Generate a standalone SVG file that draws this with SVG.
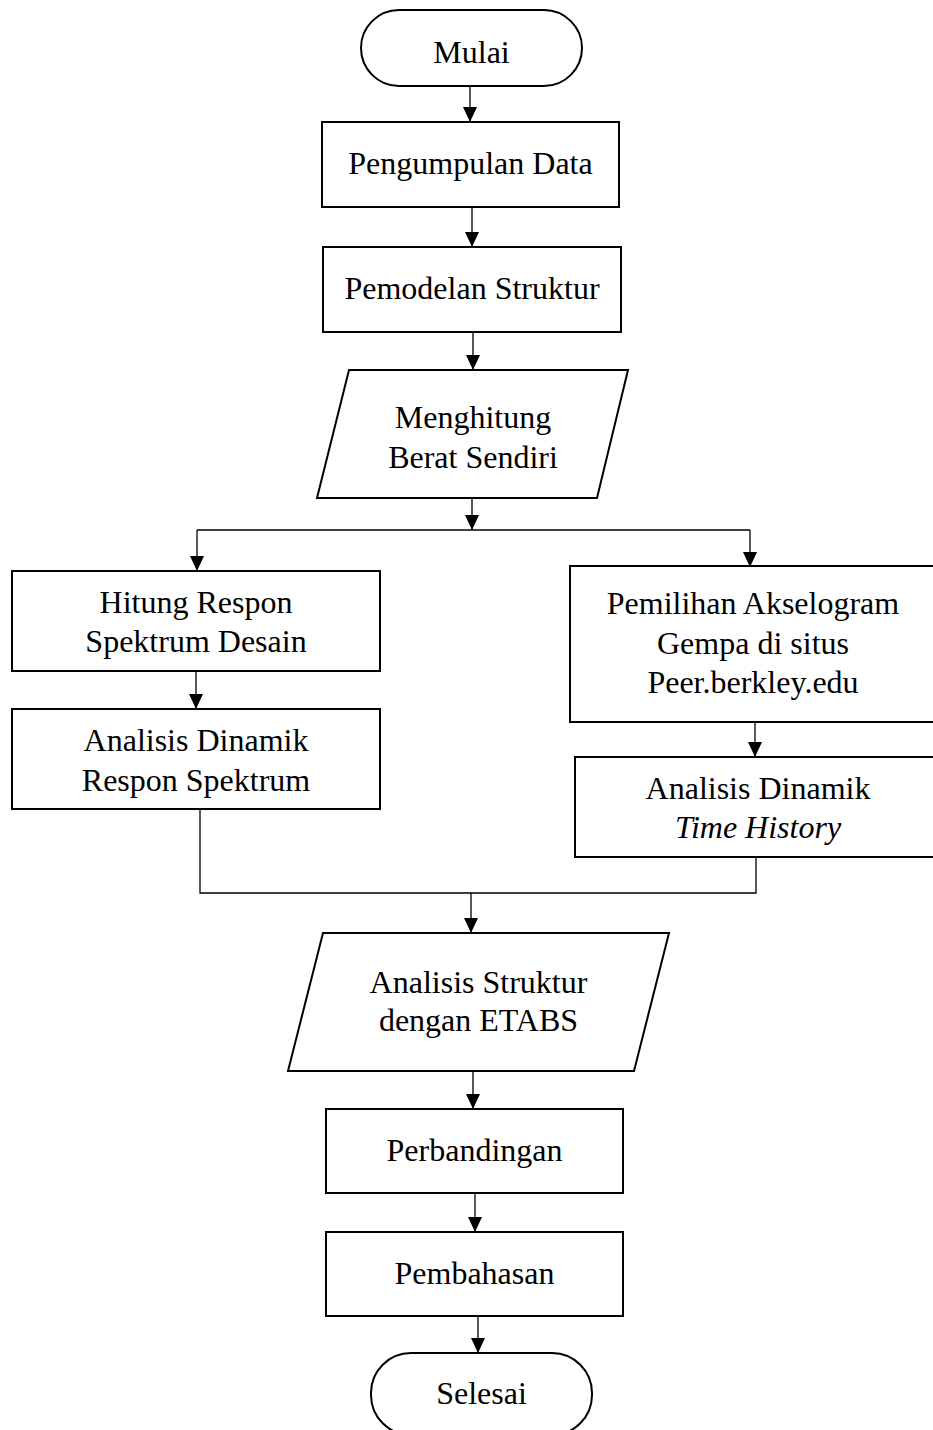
<svg xmlns="http://www.w3.org/2000/svg" width="933" height="1430" viewBox="0 0 933 1430">
<style>
.n{fill:#fff;stroke:#000;stroke-width:2}
.t{font-family:"Liberation Serif","Times New Roman",serif;font-size:32px;text-anchor:middle;fill:#000}
.c{fill:none;stroke:#000;stroke-width:1.3}
.a{marker-end:url(#ah)}
</style>
<defs>
<marker id="ah" markerUnits="userSpaceOnUse" markerWidth="15" markerHeight="15" refX="15" refY="7" orient="auto">
<path d="M0,0 L15,7 L0,14 z" fill="#000"/>
</marker>
</defs>
<rect width="933" height="1430" fill="#fff"/>
<g id="connectors">
<line class="c a" x1="470" y1="86" x2="470" y2="122"/>
<line class="c a" x1="472" y1="207" x2="472" y2="247"/>
<line class="c a" x1="473" y1="332" x2="473" y2="370"/>
<line class="c a" x1="472" y1="498" x2="472" y2="530"/>
<line class="c" x1="197" y1="530" x2="750" y2="530"/>
<line class="c a" x1="197" y1="530" x2="197" y2="571"/>
<line class="c a" x1="750" y1="530" x2="750" y2="567"/>
<line class="c a" x1="196" y1="671" x2="196" y2="709"/>
<line class="c a" x1="755" y1="722" x2="755" y2="757"/>
<polyline class="c" points="200,809 200,893 756,893 756,857"/>
<line class="c a" x1="471" y1="893" x2="471" y2="933"/>
<line class="c a" x1="473" y1="1072" x2="473" y2="1109"/>
<line class="c a" x1="475" y1="1193" x2="475" y2="1232"/>
<line class="c a" x1="478" y1="1316" x2="478" y2="1353"/>
</g>
<g id="mulai">
<rect class="n" x="361" y="10" width="221" height="76" rx="38"/>
<text class="t" x="471.5" y="63">Mulai</text>
</g>
<g id="pengumpulan">
<rect class="n" x="322" y="122" width="297" height="85"/>
<text class="t" x="470.5" y="174">Pengumpulan Data</text>
</g>
<g id="pemodelan">
<rect class="n" x="323" y="247" width="298" height="85"/>
<text class="t" x="472" y="299">Pemodelan Struktur</text>
</g>
<g id="menghitung">
<polygon class="n" points="349,370 628,370 597,498 317,498"/>
<text class="t" x="473" y="428">Menghitung</text>
<text class="t" x="473" y="468">Berat Sendiri</text>
</g>
<g id="hitung">
<rect class="n" x="12" y="571" width="368" height="100"/>
<text class="t" x="196" y="613">Hitung Respon</text>
<text class="t" x="196" y="652">Spektrum Desain</text>
</g>
<g id="pemilihan">
<rect class="n" x="570" y="566" width="366" height="156"/>
<text class="t" x="753" y="614">Pemilihan Akselogram</text>
<text class="t" x="753" y="654">Gempa di situs</text>
<text class="t" x="753" y="693">Peer.berkley.edu</text>
</g>
<g id="analisis-rs">
<rect class="n" x="12" y="709" width="368" height="100"/>
<text class="t" x="196" y="751">Analisis Dinamik</text>
<text class="t" x="196" y="791">Respon Spektrum</text>
</g>
<g id="analisis-th">
<rect class="n" x="575" y="757" width="366" height="100"/>
<text class="t" x="758" y="799">Analisis Dinamik</text>
<text class="t" x="758" y="838" font-style="italic">Time History</text>
</g>
<g id="etabs">
<polygon class="n" points="323,933 669,933 634,1071 288,1071"/>
<text class="t" x="478.5" y="993">Analisis Struktur</text>
<text class="t" x="478.5" y="1031">dengan ETABS</text>
</g>
<g id="perbandingan">
<rect class="n" x="326" y="1109" width="297" height="84"/>
<text class="t" x="474.5" y="1161">Perbandingan</text>
</g>
<g id="pembahasan">
<rect class="n" x="326" y="1232" width="297" height="84"/>
<text class="t" x="474.5" y="1284">Pembahasan</text>
</g>
<g id="selesai">
<rect class="n" x="371" y="1353" width="221" height="82" rx="40"/>
<text class="t" x="481.5" y="1404">Selesai</text>
</g>
</svg>
